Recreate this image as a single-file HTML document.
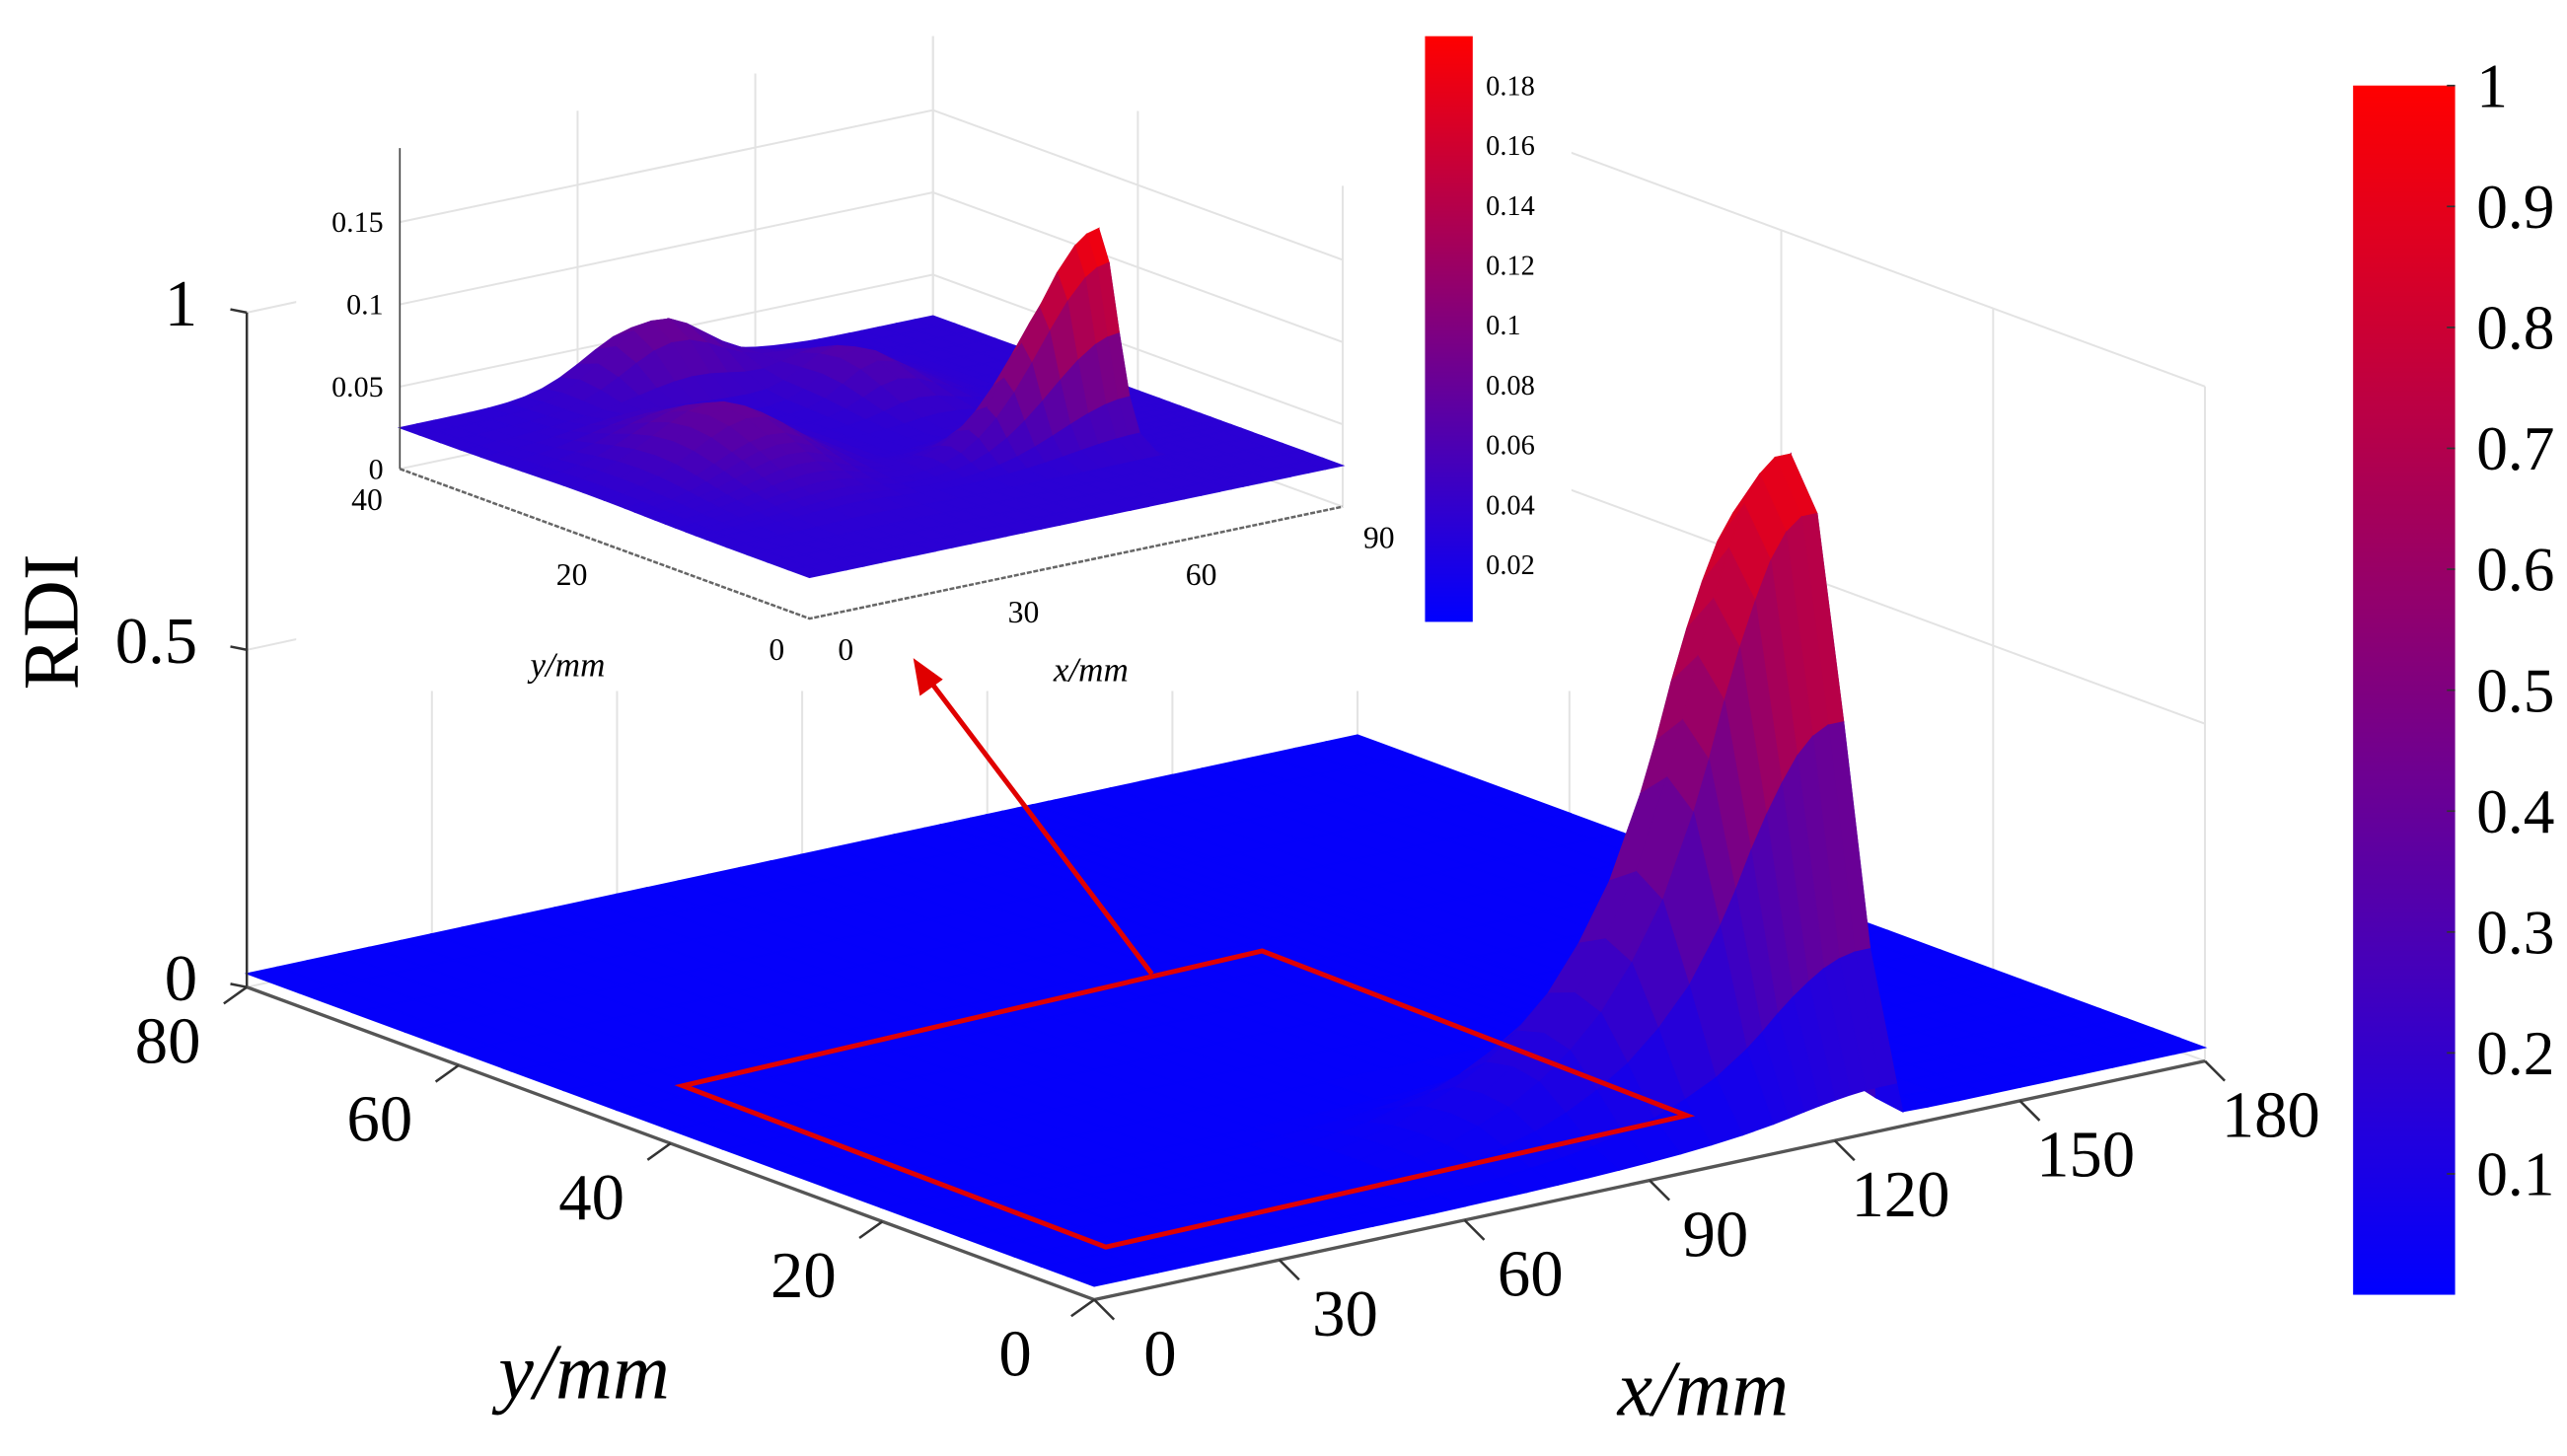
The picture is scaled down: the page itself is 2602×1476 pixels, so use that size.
<!DOCTYPE html>
<html><head><meta charset="utf-8"><style>
html,body{margin:0;padding:0;background:#fff;}
svg{display:block;font-family:"Liberation Serif",serif;}
</style></head><body>
<svg id="chart" width="2602" height="1476" viewBox="0 0 1560 885" preserveAspectRatio="none" xmlns="http://www.w3.org/2000/svg">
<defs>
<linearGradient id="cbar" x1="0" y1="1" x2="0" y2="0"><stop offset="0" stop-color="#0000ff"/><stop offset="1" stop-color="#ff0000"/></linearGradient>
</defs>
<g id="main-grid"></g>
<g id="main-surface"></g>
<g id="main-axes"></g>
<rect x="180" y="0" width="775" height="420" fill="#fff"/>
<g id="inset-grid"></g>
<g id="inset-surface"></g>
<g id="inset-axes"></g>
<polygon points="415,660 767,578 1025,678 672,758" fill="none" stroke="#e00000" stroke-width="3"/>
<line x1="700" y1="592" x2="563" y2="411" stroke="#e00000" stroke-width="3"/>
<polygon points="555,400 559,423 573,413" fill="#e00000"/>
<rect x="1430" y="52" width="62" height="735" fill="url(#cbar)"/>
<rect x="866" y="22" width="29" height="356" fill="url(#cbar)"/>
<g id="cbars"></g>
<text x="0" y="0" transform="translate(47,378) rotate(-90)" text-anchor="middle" font-size="48">RDI</text>
<text x="355" y="850" text-anchor="middle" font-size="48" font-style="italic">y/mm</text>
<text x="1035" y="860" text-anchor="middle" font-size="48" font-style="italic">x/mm</text>
<text x="345" y="411" text-anchor="middle" font-size="21" font-style="italic">y/mm</text>
<text x="663" y="414" text-anchor="middle" font-size="21" font-style="italic">x/mm</text>
</svg>
<script>
// ---- main chart data ----
const mainXs=[0,5,10,15,20,25,30,35,40,45,50,55,60,65,70,75,80,85,90,95,100,105,110,112.5,115,117.5,120,122.5,125,127.5,130,131,135,140,145,150,155,160,165,170,175,180];
const mainPeakX=[0,0,0,0,0,0,0,0,0,0,0,0,0.01,0.02,0.03,0.05,0.07,0.1,0.14,0.19,0.26,0.35,0.48,0.56,0.65,0.73,0.80,0.86,0.90,0.92,0.92,0.03,0.01,0,0,0,0,0,0,0,0,0];
const mainYs=[0,2.5,5,7.5,10,12.5,15,17.5,20,25,30,35,40,45,50,55,60,65,70,75,80];
const mainPeakY=[0.05,0.25,0.6,0.92,1,0.92,0.6,0.25,0.05,0,0,0,0,0,0,0,0,0,0,0,0];
const mainBase=0.02;
const mainXTicks=[0,30,60,90,120,150,180];
const mainYTicks=[0,20,40,60,80];
const mainZTicks=[0,0.5,1];
const mainCbarTicks=[0.1,0.2,0.3,0.4,0.5,0.6,0.7,0.8,0.9,1];
// ---- inset chart data ----
const insetXs=[0,3,6,9,12,15,18,21,24,27,30,33,36,39,42,45,48,51,54,57,60,63,66,69,71,73,74,76,78,81,84,87,90];
const insetYs=[0,2,4,6,8,10,11,12,13,14,15,16,17,18,20,22,24,26,28,30,32,34,36,38,40];
const bumpX=[73,25,40,60];
const bumpY=[14,22,38,30];
const bumpAmp=[0.125,0.035,0.04,0.025];
const bumpSxL=[16,14,12,8];
const bumpSxR=[0.6,10,12,8];
const bumpSy=[2.5,8,4,6];
const insetBase=0.025;
const insetXTicks=[0,30,60,90];
const insetYTicks=[0,20,40];
const insetZTicks=[0,0.05,0.1,0.15];
const insetCbarTicks=[0.02,0.04,0.06,0.08,0.1,0.12,0.14,0.16,0.18];

const NS="http://www.w3.org/2000/svg";
function mk(tag,attrs,parent){const e=document.createElementNS(NS,tag);for(const k in attrs)e.setAttribute(k,attrs[k]);parent.appendChild(e);return e;}
function col(v){v=Math.max(0,Math.min(1,v));return `rgb(${Math.round(255*v)},0,${Math.round(255*(1-v))})`;}

function mP(x,y,z){return [665+3.75*x-6.4375*y, 790-0.806*x-2.375*y-410*z];}
function iP(x,y,z){return [492+3.6*x-6.225*y, 376-0.756*x-2.275*y-1000*z];}

function drawSurface(g,xs,ys,zf,P,cmax,xmax,ymax){
  const cells=[];
  for(let i=0;i<xs.length-1;i++)for(let j=0;j<ys.length-1;j++){
    cells.push([i,j,(xs[i]+xs[i+1])/2/xmax+(ys[j]+ys[j+1])/2/ymax]);
  }
  cells.sort((a,b)=>b[2]-a[2]);
  for(const [i,j] of cells){
    const z00=zf(i,j),z10=zf(i+1,j),z11=zf(i+1,j+1),z01=zf(i,j+1);
    const pts=[P(xs[i],ys[j],z00),P(xs[i+1],ys[j],z10),P(xs[i+1],ys[j+1],z11),P(xs[i],ys[j+1],z01)];
    const c=col((z00+z10+z11+z01)/4/cmax);
    const p=mk('polygon',{points:pts.map(q=>q.join(',')).join(' '),fill:c,stroke:c,'stroke-width':0.8},g);
    
    
  }
}

const mg=document.getElementById('main-grid');
const gl={stroke:'#e3e3e3','stroke-width':1.2};
mainXTicks.forEach(x=>{if(x===0)return;const a=mP(x,80,0),b=mP(x,80,1);const l=mk('line',Object.assign({x1:a[0],y1:a[1],x2:b[0],y2:b[1]},gl),mg);});
mainYTicks.forEach(y=>{const a=mP(180,y,0),b=mP(180,y,1);const l=mk('line',Object.assign({x1:a[0],y1:a[1],x2:b[0],y2:b[1]},gl),mg);});
mainZTicks.forEach(z=>{const a=mP(0,80,z),b=mP(180,80,z),c=mP(180,0,z);const l=mk('polyline',Object.assign({points:`${a} ${b} ${c}`,fill:'none'},gl),mg);});

drawSurface(document.getElementById('main-surface'),mainXs,mainYs,(i,j)=>mainBase+mainPeakX[i]*mainPeakY[j],mP,1,180,80);

const ma=document.getElementById('main-axes');
{
  let a=mP(0,80,0),b=mP(0,80,1);
  let l=mk('line',{x1:a[0],y1:a[1],x2:b[0],y2:b[1],stroke:'#333','stroke-width':1.5},ma);
  a=mP(0,80,0);b=mP(0,0,0);const c=mP(180,0,0);
  l=mk('polyline',{points:`${a} ${b} ${c}`,fill:'none',stroke:'#555','stroke-width':2},ma);
}
mainZTicks.forEach(z=>{const p=mP(0,80,z);const t=mk('text',{x:p[0]-30,y:p[1]+8,'text-anchor':'end','font-size':40},ma);t.textContent=String(z);const k=mk('line',{x1:p[0],y1:p[1],x2:p[0]-10,y2:p[1]-2,stroke:'#333','stroke-width':1.5},ma);});
mainYTicks.forEach(y=>{const p=mP(0,y,0);const t=mk('text',{x:p[0]-48,y:p[1]+46,'text-anchor':'middle','font-size':40},ma);t.textContent=String(y);const k=mk('line',{x1:p[0],y1:p[1],x2:p[0]-14,y2:p[1]+10,stroke:'#333','stroke-width':1.5},ma);});
mainXTicks.forEach(x=>{const p=mP(x,0,0);const t=mk('text',{x:p[0]+40,y:p[1]+46,'text-anchor':'middle','font-size':40},ma);t.textContent=String(x);const k=mk('line',{x1:p[0],y1:p[1],x2:p[0]+12,y2:p[1]+12,stroke:'#333','stroke-width':1.5},ma);});

const ig=document.getElementById('inset-grid');
insetXTicks.forEach(x=>{if(x===0)return;const a=iP(x,40,0),b=iP(x,40,0.195);const l=mk('line',Object.assign({x1:a[0],y1:a[1],x2:b[0],y2:b[1]},gl),ig);});
insetYTicks.forEach(y=>{const a=iP(90,y,0),b=iP(90,y,0.195);const l=mk('line',Object.assign({x1:a[0],y1:a[1],x2:b[0],y2:b[1]},gl),ig);});
insetZTicks.forEach(z=>{const a=iP(0,40,z),b=iP(90,40,z),c=iP(90,0,z);const l=mk('polyline',Object.assign({points:`${a} ${b} ${c}`,fill:'none'},gl),ig);});

function insetZ(i,j){const x=insetXs[i],y=insetYs[j];let z=insetBase;for(let k=0;k<bumpX.length;k++){const sx=x<bumpX[k]?bumpSxL[k]:bumpSxR[k];z+=bumpAmp[k]*Math.exp(-Math.pow((x-bumpX[k])/sx,2)-Math.pow((y-bumpY[k])/bumpSy[k],2));}return z;}
drawSurface(document.getElementById('inset-surface'),insetXs,insetYs,insetZ,iP,0.15,90,40);

const ia=document.getElementById('inset-axes');
{
  let a=iP(0,40,0),b=iP(0,40,0.195);
  let l=mk('line',{x1:a[0],y1:a[1],x2:b[0],y2:b[1],stroke:'#444','stroke-width':1},ia);
  const c=iP(0,0,0),d=iP(90,0,0);
  l=mk('polyline',{points:`${a} ${c} ${d}`,fill:'none',stroke:'#666','stroke-width':1.5,'stroke-dasharray':'3,1'},ia);
}
insetZTicks.forEach(z=>{const p=iP(0,40,z);const t=mk('text',{x:p[0]-10,y:p[1]+6,'text-anchor':'end','font-size':18},ia);t.textContent=String(z);});
insetYTicks.forEach(y=>{const p=iP(0,y,0);const t=mk('text',{x:p[0]-20,y:p[1]+25,'text-anchor':'middle','font-size':19},ia);t.textContent=String(y);});
insetXTicks.forEach(x=>{const p=iP(x,0,0);const t=mk('text',{x:p[0]+22,y:p[1]+25,'text-anchor':'middle','font-size':19},ia);t.textContent=String(x);});

const cb=document.getElementById('cbars');
mainCbarTicks.forEach(v=>{const y=787-735*v;const t=mk('text',{x:1505,y:y+13,'font-size':38},cb);t.textContent=String(v);const k=mk('line',{x1:1487,y1:y,x2:1492,y2:y,stroke:'#333','stroke-width':1},cb);});
insetCbarTicks.forEach(v=>{const y=343-(v-0.02)/0.02*36.4;const t=mk('text',{x:903,y:y+6,'font-size':17},cb);t.textContent=String(v);});
</script>
</body></html>
